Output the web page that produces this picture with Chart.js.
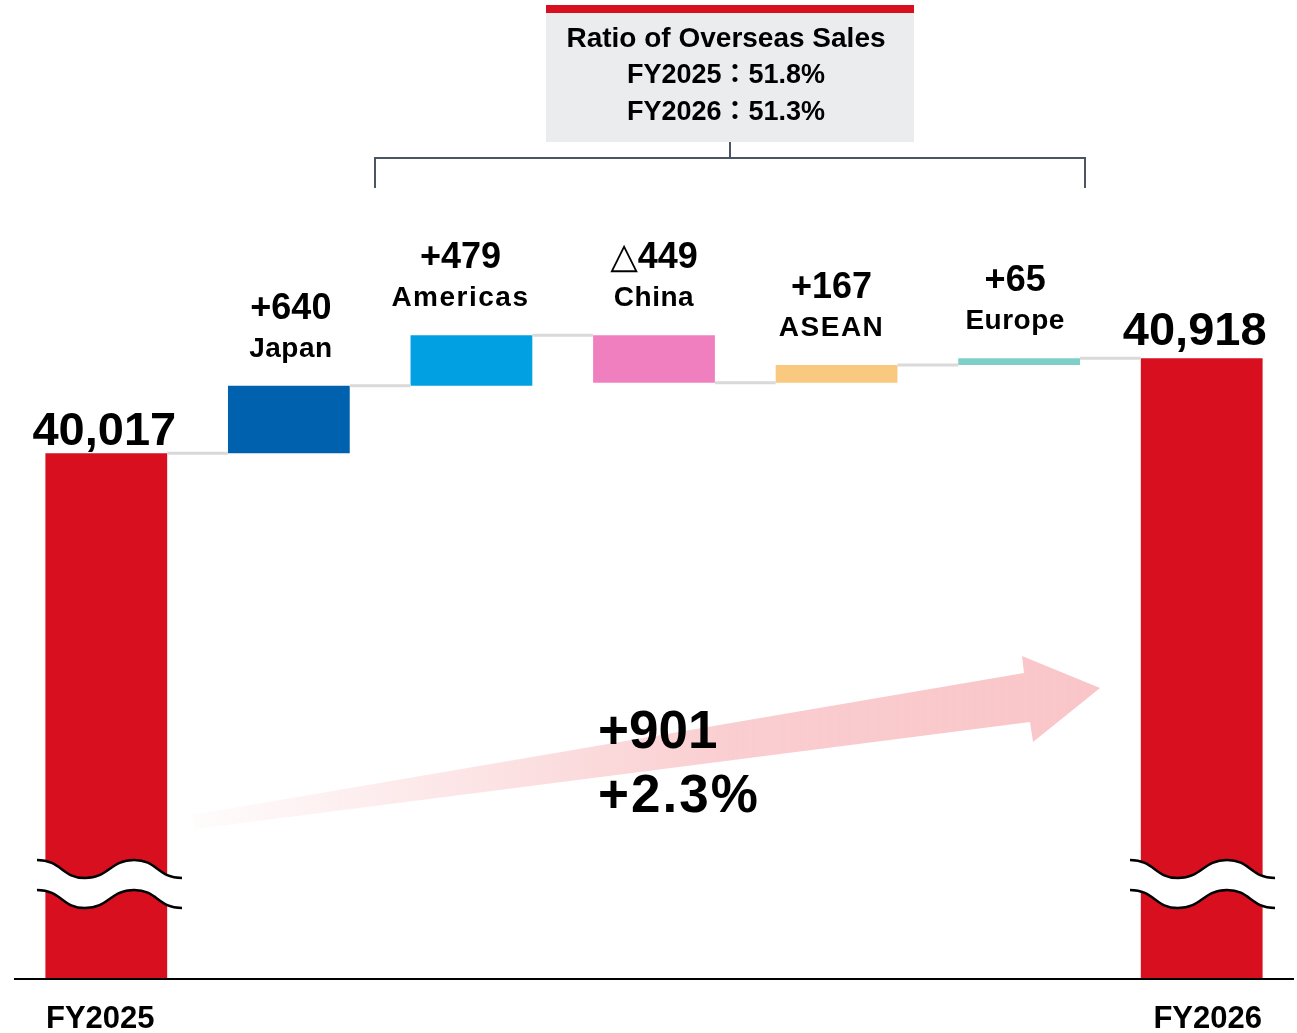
<!DOCTYPE html>
<html>
<head>
<meta charset="utf-8">
<script src="https://cdn.jsdelivr.net/npm/chart.js@4"></script>
<style>
  body { margin: 0; background: #fff; }
  #wrap { width: 1297px; height: 1033px; }
</style>
</head>
<body>
<div id="wrap"><canvas id="salesChart" width="1297" height="1033"></canvas></div>
<script>
// Veriler
const categories = ['FY2025', 'Japan', 'Americas', 'China', 'ASEAN', 'Europe', 'FY2026'];
const startTotal = 40017;
const endTotal = 40918;
const changes = [640, 479, -449, 167, 65];
const changeLabels = ['+640', '+479', '△449', '+167', '+65'];
const totalLabels = ['40,017', '40,918'];
const diffLabels = ['+901', '+2.3%'];
const ratioLines = ['Ratio of Overseas Sales', 'FY2025：51.8%', 'FY2026：51.3%'];
const barColors = ['#D70F1E', '#0062AE', '#00A0E2', '#F07FBF', '#F9C97F', '#7FCFC9', '#D70F1E'];

const yMin = 35030;
const yMax = 42420;

// waterfall aralıkları
const ranges = [[yMin, startTotal]];
let run = startTotal;
changes.forEach(c => {
    ranges.push([run, run + c]);
    run += c;
});
ranges.push([yMin, endTotal]);

const FONT = "'Liberation Sans', Arial, 'DejaVu Sans', 'Noto Sans CJK JP', sans-serif";
// etiketlerin yatay kayması (px)
const labelShift = [2, -11, 0, -5, -4];

const overlay = {
    id: 'overlay',
    beforeDatasetsDraw(chart) {
        const ctx = chart.ctx;
        // büyüme oku
        ctx.save();
        const g = ctx.createLinearGradient(193, 0, 1100, 0);
        g.addColorStop(0, 'rgba(249,197,200,0.05)');
        g.addColorStop(0.6, 'rgba(249,197,200,0.85)');
        g.addColorStop(1, 'rgba(249,197,200,1)');
        ctx.fillStyle = g;
        ctx.beginPath();
        ctx.moveTo(192, 815);
        ctx.lineTo(1024, 673);
        ctx.lineTo(1022, 656);
        ctx.lineTo(1100, 688);
        ctx.lineTo(1033, 742);
        ctx.lineTo(1030, 722);
        ctx.lineTo(195, 829);
        ctx.closePath();
        ctx.fill();
        ctx.restore();
    },
    afterDatasetsDraw(chart) {
        const ctx = chart.ctx;
        const meta = chart.getDatasetMeta(0);
        const y = chart.scales.y;
        const bars = meta.data;

        ctx.save();
        // bağlantı çizgileri
        ctx.strokeStyle = '#d9d9d9';
        ctx.lineWidth = 3;
        for (let i = 0; i < bars.length - 1; i++) {
            const lvl = y.getPixelForValue(ranges[i][1]);
            const x1 = bars[i].x + bars[i].width / 2;
            const x2 = bars[i + 1].x - bars[i + 1].width / 2;
            ctx.beginPath();
            ctx.moveTo(x1, lvl);
            ctx.lineTo(x2, lvl);
            ctx.stroke();
        }

        // değişim etiketleri
        ctx.fillStyle = '#000';
        ctx.textAlign = 'center';
        ctx.textBaseline = 'middle';
        for (let i = 1; i < bars.length - 1; i++) {
            const top = y.getPixelForValue(Math.max(ranges[i][0], ranges[i][1]));
            const cx = bars[i].x + labelShift[i - 1];
            ctx.font = 'bold 36px ' + FONT;
            ctx.letterSpacing = '0px';
            ctx.fillText(changeLabels[i - 1], cx, top - 77);
            ctx.font = 'bold 28px ' + FONT;
            ctx.letterSpacing = (categories[i] === 'Americas' || categories[i] === 'ASEAN') ? '1.5px' : '0.5px';
            ctx.fillText(categories[i], cx, top - 37);
        }
        ctx.letterSpacing = '0px';

        // toplam etiketleri
        ctx.font = 'bold 47px ' + FONT;
        ctx.textBaseline = 'alphabetic';
        ctx.fillText(totalLabels[0], bars[0].x - 2, y.getPixelForValue(startTotal) - 8);
        ctx.fillText(totalLabels[1], bars[6].x - 7, y.getPixelForValue(endTotal) - 13);

        // kesme işaretleri
        [bars[0], bars[6]].forEach((b, k) => {
            const x0 = k === 0 ? 37 : 1130;
            const w = 145;
            const wave = (yy) => {
                ctx.moveTo(x0, yy);
                ctx.bezierCurveTo(x0 + w * 0.17, yy, x0 + w * 0.17, yy + 18, x0 + w * 0.33, yy + 18);
                ctx.bezierCurveTo(x0 + w * 0.5, yy + 18, x0 + w * 0.5, yy, x0 + w * 0.67, yy);
                ctx.bezierCurveTo(x0 + w * 0.83, yy, x0 + w * 0.83, yy + 18, x0 + w, yy + 18);
            };
            ctx.fillStyle = '#fff';
            ctx.beginPath();
            wave(860);
            ctx.lineTo(x0 + w, 908);
            ctx.bezierCurveTo(x0 + w * 0.83, 908, x0 + w * 0.83, 890, x0 + w * 0.67, 890);
            ctx.bezierCurveTo(x0 + w * 0.5, 890, x0 + w * 0.5, 908, x0 + w * 0.33, 908);
            ctx.bezierCurveTo(x0 + w * 0.17, 908, x0 + w * 0.17, 890, x0, 890);
            ctx.closePath();
            ctx.fill();
            ctx.strokeStyle = '#000';
            ctx.lineWidth = 2.5;
            ctx.beginPath();
            wave(860);
            ctx.stroke();
            ctx.beginPath();
            wave(890);
            ctx.stroke();
        });

        // eksen çizgisi
        ctx.strokeStyle = '#000';
        ctx.lineWidth = 2;
        ctx.beginPath();
        ctx.moveTo(14, 979);
        ctx.lineTo(1294, 979);
        ctx.stroke();

        // x etiketleri
        ctx.fillStyle = '#000';
        ctx.font = 'bold 31px ' + FONT;
        ctx.textBaseline = 'middle';
        ctx.fillText(categories[0], bars[0].x - 6, 1019);
        ctx.fillText(categories[6], bars[6].x + 6, 1019);

        // +901 / +2.3%
        ctx.font = 'bold 53px ' + FONT;
        ctx.textAlign = 'left';
        ctx.fillText(diffLabels[0], 598, 733);
        ctx.letterSpacing = '2px';
        ctx.fillText(diffLabels[1], 598, 797);
        ctx.letterSpacing = '0px';

        // oran kutusu
        ctx.fillStyle = '#EBECEE';
        ctx.fillRect(546, 12, 368, 130);
        ctx.fillStyle = '#D70F1E';
        ctx.fillRect(546, 5, 368, 8);
        ctx.fillStyle = '#000';
        ctx.textAlign = 'center';
        ctx.font = 'bold 28px ' + FONT;
        ctx.fillText(ratioLines[0], 726, 39);
        ctx.font = 'bold 27px ' + FONT;
        ctx.fillText(ratioLines[1], 726, 76);
        ctx.fillText(ratioLines[2], 726, 113);

        // köşeli parantez
        ctx.strokeStyle = '#4B5563';
        ctx.lineWidth = 2;
        ctx.beginPath();
        ctx.moveTo(730, 142);
        ctx.lineTo(730, 158);
        ctx.moveTo(375, 188);
        ctx.lineTo(375, 158);
        ctx.lineTo(1085, 158);
        ctx.lineTo(1085, 188);
        ctx.stroke();
        ctx.restore();
    }
};

new Chart(document.getElementById('salesChart').getContext('2d'), {
    type: 'bar',
    data: {
        labels: categories,
        datasets: [{
            data: ranges,
            backgroundColor: barColors,
            borderWidth: 0,
            borderSkipped: false,
            categoryPercentage: 1,
            barPercentage: 0.667
        }]
    },
    options: {
        responsive: false,
        animation: false,
        layout: { padding: { left: 15, right: 4, top: 200, bottom: 54 } },
        scales: {
            x: { display: false },
            y: { display: false, min: yMin, max: yMax }
        },
        plugins: {
            legend: { display: false },
            tooltip: { enabled: false }
        }
    },
    plugins: [overlay]
});
</script>
</body>
</html>
